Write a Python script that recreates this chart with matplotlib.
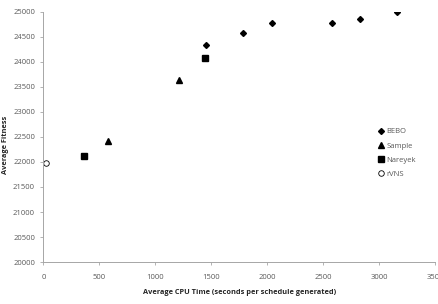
import matplotlib
matplotlib.use("Agg")
from matplotlib import pyplot as plt

# data
bebo_x = [1450, 1780, 2045, 2575, 2830, 3160]
bebo_y = [24330, 24580, 24770, 24780, 24865, 24990]
sample_x = [578, 1215]
sample_y = [22420, 23640]
nareyek_x = [360, 1440]
nareyek_y = [22110, 24080]
rvns_x = [22]
rvns_y = [21975]

xticks = [0, 500, 1000, 1500, 2000, 2500, 3000, 3500]
yticks = [20000, 20500, 21000, 21500, 22000, 22500, 23000, 23500, 24000, 24500, 25000]

plt.rcParams['font.family'] = ['Open Sans', 'DejaVu Sans']
grey = '#595959'
axcol = '#a6a6a6'

fig = plt.figure(figsize=(4.38, 3.04), dpi=100)
ax = fig.add_axes([0.099, 0.138, 0.895, 0.823])

ax.plot(bebo_x, bebo_y, 'kD', markersize=3.0, linestyle='none', label='BEBO')
ax.plot(sample_x, sample_y, 'k^', markersize=4.0, linestyle='none', label='Sample')
ax.plot(nareyek_x, nareyek_y, 'ks', markersize=4.0, linestyle='none', label='Nareyek')
ax.plot(rvns_x, rvns_y, 'o', markerfacecolor='white', markeredgecolor='k',
        markeredgewidth=0.6, markersize=4, linestyle='none', label='rVNS')

ax.set_xlim(0, 3500)
ax.set_ylim(20000, 25000)
ax.set_xticks(xticks)
ax.set_yticks(yticks)
ax.tick_params(labelsize=5.5, colors=grey, length=2.5, width=0.6, color=axcol)
for s in ['top', 'right']:
    ax.spines[s].set_visible(False)
for s in ['left', 'bottom']:
    ax.spines[s].set_color(axcol)
    ax.spines[s].set_linewidth(0.7)
ax.tick_params(axis='x', pad=6)

ax.set_xlabel('Average CPU Time (seconds per schedule generated)', fontsize=5.3,
              fontweight='bold', color='#262626', labelpad=6)
ax.set_ylabel('Average Fitness', fontsize=5.3, fontweight='bold', color='#262626')
ax.yaxis.set_label_coords(-0.088, 0.47)

leg = ax.legend(loc='upper left', bbox_to_anchor=(0.845, 0.548), frameon=False,
                fontsize=5.5, handletextpad=0.1, handlelength=1.0, labelspacing=0.9,
                borderaxespad=0)
for t in leg.get_texts():
    t.set_color(grey)

plt.savefig('out.png', dpi=100)
